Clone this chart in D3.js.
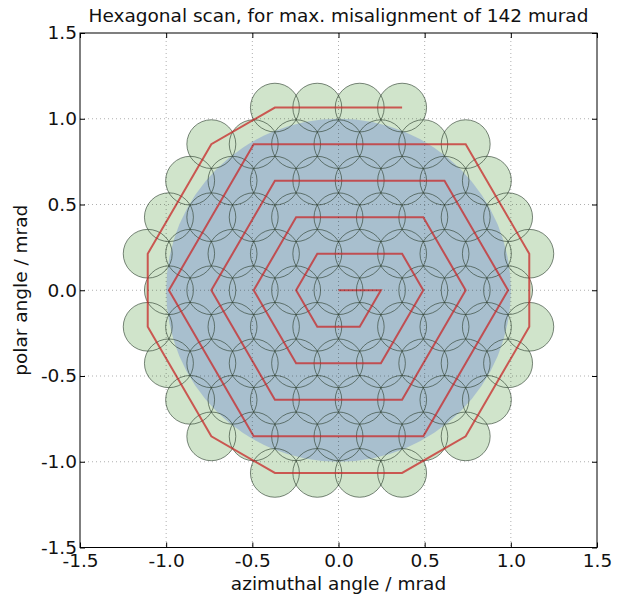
<!DOCTYPE html>
<html><head><meta charset="utf-8">
<script src="https://cdn.jsdelivr.net/npm/d3@7/dist/d3.min.js"></script>
<style>body{margin:0;background:#fff}svg{display:block}text{font-family:"DejaVu Sans",sans-serif}</style>
</head><body>
<script>
// Scan positions (mrad), in scan order along the hexagonal spiral
const scanX = [0,
 0.246,0.123,-0.123,-0.246,-0.123,0.123,
 0.369,0.492,0.369,0.246,0,-0.246,-0.369,-0.492,-0.369,-0.246,0,0.246,
 0.492,0.615,0.738,0.615,0.492,0.369,0.123,-0.123,-0.369,-0.492,-0.615,-0.738,-0.615,-0.492,-0.369,-0.123,0.123,0.369,
 0.615,0.738,0.861,0.984,0.861,0.738,0.615,0.492,0.246,0,-0.246,-0.492,-0.615,-0.738,-0.861,-0.984,-0.861,-0.738,-0.615,-0.492,-0.246,0,0.246,0.492,
 0.738,0.861,0.984,1.107,1.107,0.984,0.861,0.738,0.369,0.123,-0.123,-0.369,-0.738,-0.861,-0.984,-1.107,-1.107,-0.984,-0.861,-0.738,-0.369,-0.123,0.123,0.369];
const scanY = [0,
 0,-0.213,-0.213,0,0.213,0.213,
 0.213,0,-0.213,-0.426,-0.426,-0.426,-0.213,0,0.213,0.426,0.426,0.426,
 0.426,0.213,0,-0.213,-0.426,-0.639,-0.639,-0.639,-0.639,-0.426,-0.213,0,0.213,0.426,0.639,0.639,0.639,0.639,
 0.639,0.426,0.213,0,-0.213,-0.426,-0.639,-0.852,-0.852,-0.852,-0.852,-0.852,-0.639,-0.426,-0.213,0,0.213,0.426,0.639,0.852,0.852,0.852,0.852,0.852,
 0.852,0.639,0.426,0.213,-0.213,-0.426,-0.639,-0.852,-1.065,-1.065,-1.065,-1.065,-0.852,-0.639,-0.426,-0.213,0.213,0.426,0.639,0.852,1.065,1.065,1.065,1.065];
const beamRadius = 0.142;      // mrad
const maxMisalignment = 1.0;   // mrad, radius of region to cover
const ticks = [-1.5,-1.0,-0.5,0.0,0.5,1.0,1.5];
const tickLabels = ["-1.5","-1.0","-0.5","0.0","0.5","1.0","1.5"];
const titleText = "Hexagonal scan, for max. misalignment of 142 murad";
const xLabel = "azimuthal angle / mrad";
const yLabel = "polar angle / mrad";

const W = 617, H = 596;
const L = 80, R = 597, T = 33, B = 547.5;
const FS = 18.5;
const x = d3.scaleLinear().domain([-1.5,1.5]).range([L,R]);
const y = d3.scaleLinear().domain([-1.5,1.5]).range([B,T]);
const pts = scanX.map((v,i)=>[v,scanY[i]]);

const svg = d3.select("body").append("svg").attr("width",W).attr("height",H);
const defs = svg.append("defs");
defs.append("clipPath").attr("id","clip").append("rect").attr("x",L).attr("y",T).attr("width",R-L).attr("height",B-T);
const plot = svg.append("g").attr("clip-path","url(#clip)");

const rx = x(beamRadius)-x(0), ry = y(0)-y(beamRadius);
plot.append("g").selectAll("ellipse").data(pts).join("ellipse")
  .attr("cx",d=>x(d[0])).attr("cy",d=>y(d[1])).attr("rx",rx).attr("ry",ry)
  .attr("fill","#d0e4cb");
plot.append("ellipse").attr("cx",x(0)).attr("cy",y(0))
  .attr("rx",x(maxMisalignment)-x(0)).attr("ry",y(0)-y(maxMisalignment))
  .attr("fill","rgb(90,120,210)").attr("fill-opacity",0.34);
plot.append("g").selectAll("ellipse").data(pts).join("ellipse")
  .attr("cx",d=>x(d[0])).attr("cy",d=>y(d[1])).attr("rx",rx).attr("ry",ry)
  .attr("fill","none").attr("stroke","#2f3f30").attr("stroke-opacity",0.7).attr("stroke-width",0.9);
plot.append("path").datum(pts)
  .attr("d",d3.line().x(d=>x(d[0])).y(d=>y(d[1])))
  .attr("fill","none").attr("stroke","rgb(200,40,40)").attr("stroke-opacity",0.75).attr("stroke-width",2);
const grid = svg.append("g").attr("stroke","#000").attr("stroke-opacity",0.45).attr("stroke-width",0.7).attr("stroke-dasharray","1,3");
grid.selectAll(".gx").data(ticks.slice(1,-1)).join("line").attr("x1",d=>x(d)).attr("x2",d=>x(d)).attr("y1",T).attr("y2",B);
grid.selectAll(".gy").data(ticks.slice(1,-1)).join("line").attr("y1",d=>y(d)).attr("y2",d=>y(d)).attr("x1",L).attr("x2",R);

const fmt = (d,i)=>tickLabels[i];
svg.append("g").attr("transform",`translate(0,${B})`).call(d3.axisBottom(x).tickValues(ticks).tickFormat(fmt).tickSizeInner(-5).tickSizeOuter(0).tickPadding(6.5));
svg.append("g").attr("transform",`translate(0,${T})`).call(d3.axisTop(x).tickValues(ticks).tickFormat("").tickSizeInner(-5).tickSizeOuter(0));
svg.append("g").attr("transform",`translate(${L},0)`).call(d3.axisLeft(y).tickValues(ticks).tickFormat(fmt).tickSizeInner(-5).tickSizeOuter(0).tickPadding(3));
svg.append("g").attr("transform",`translate(${R},0)`).call(d3.axisRight(y).tickValues(ticks).tickFormat("").tickSizeInner(-5).tickSizeOuter(0));
svg.selectAll(".domain").remove();
svg.selectAll(".tick text").attr("font-size",FS).attr("fill","#111").attr("font-family","DejaVu Sans");
svg.selectAll(".tick line").attr("stroke","#000");
svg.append("rect").attr("x",L).attr("y",T).attr("width",R-L).attr("height",B-T).attr("fill","none").attr("stroke","#000").attr("stroke-width",1);

svg.append("text").attr("x",(L+R)/2).attr("y",22).attr("text-anchor","middle").attr("font-size",FS).attr("fill","#111").text(titleText);
svg.append("text").attr("x",(L+R)/2).attr("y",590).attr("text-anchor","middle").attr("font-size",FS).attr("fill","#111").text(xLabel);
svg.append("text").attr("transform",`translate(27,${(T+B)/2}) rotate(-90)`).attr("text-anchor","middle").attr("font-size",FS).attr("fill","#111").text(yLabel);
</script>
</body></html>
